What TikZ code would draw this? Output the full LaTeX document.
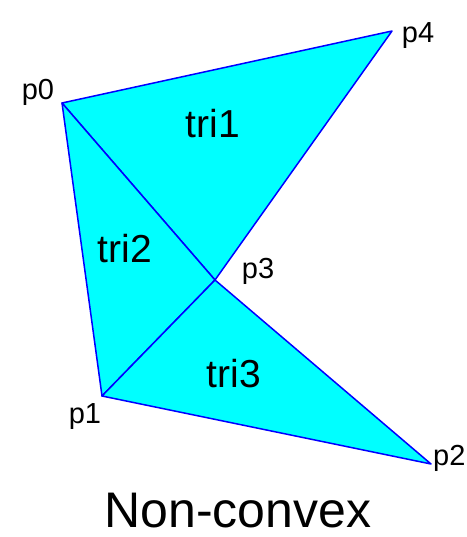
\documentclass[tikz,border=0pt]{standalone}
\usepackage{fontspec}
\setmainfont{Liberation Sans}
\usetikzlibrary{positioning}
\definecolor{trifill}{HTML}{00FFFF}
\definecolor{triline}{HTML}{0000FF}
\tikzset{
  tri/.style={
    fill=trifill,
    draw=triline,
    line width=1.5pt,
    line join=round,
  },
  ptlabel/.style={
    font=\fontsize{29}{34}\selectfont,
    anchor=base,
    inner sep=0pt,
  },
  trilabel/.style={
    font=\fontsize{39}{46}\selectfont,
    anchor=base,
    inner sep=0pt,
  },
  caption/.style={
    font=\fontsize{50}{60}\selectfont,
    anchor=base,
    inner sep=0pt,
  },
}

\begin{document}
\begin{tikzpicture}[x=1pt, y=-1pt]

\useasboundingbox (0,0) rectangle (466,537);

% Vertices
\coordinate (p0) at (62,103);
\coordinate (p1) at (102,396);
\coordinate (p2) at (431,464);
\coordinate (p3) at (215,280);
\coordinate (p4) at (392,31);

% Triangles
\draw[tri] (p0) -- (p4) -- (p3) -- cycle;
\draw[tri] (p0) -- (p3) -- (p1) -- cycle;
\draw[tri] (p1) -- (p3) -- (p2) -- cycle;

% Vertex labels
\node[ptlabel] (l0) at (38,100) {p0};
\node[ptlabel] (l1) at (85,423) {p1};
\node[ptlabel, anchor=base west] (l2) at (433,465) {p2};
\node[ptlabel] (l3) at (258,278) {p3};
\node[ptlabel] (l4) at (418,43) {p4};

% Triangle labels
\node[trilabel] (t1) at (213,138) {tri1};
\node[trilabel] (t2) at (125,262) {tri2};
\node[trilabel] (t3) at (234,387) {tri3};

% Caption
\node[caption] (title) at (238,527) {Non-convex};

\end{tikzpicture}
\end{document}
